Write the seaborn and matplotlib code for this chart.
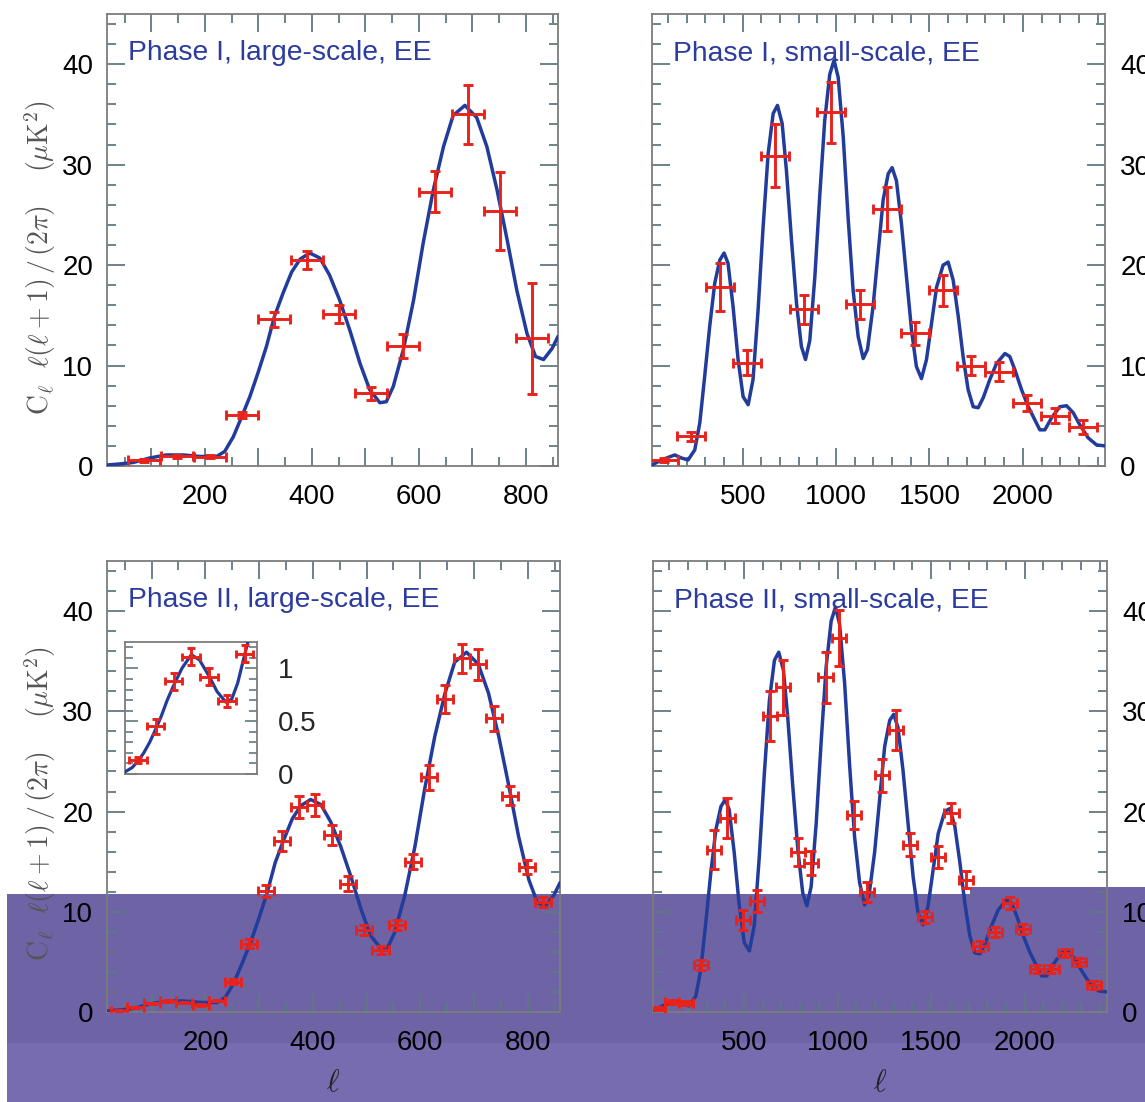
import numpy as np
import pandas as pd
import matplotlib
matplotlib.use("Agg")
import matplotlib.pyplot as plt
from matplotlib.ticker import MultipleLocator, FuncFormatter
from matplotlib.patches import Rectangle
import seaborn as sns

# ---------------- data ----------------
# theory curve, large-scale panels
ls_model_l = [17, 40, 66, 97, 128, 160, 191, 222, 237, 253, 268, 284, 300, 315, 330, 346, 362,
              378, 396, 415, 433, 452, 471, 490, 508, 527, 539, 552, 571, 590, 608, 627, 646,
              664, 686, 708, 727, 746, 765, 783, 802, 818, 833, 849, 860]
ls_model_y = [0.1, 0.2, 0.35, 0.8, 1.1, 1.1, 0.95, 0.95, 1.45, 2.9, 4.8, 6.9, 9.4, 11.9, 14.9,
              17.2, 19.3, 20.6, 21.2, 20.7, 19.0, 16.5, 13.5, 10.2, 7.6, 6.3, 6.4, 7.9, 11.6,
              16.5, 22.2, 27.5, 31.8, 34.9, 35.9, 34.7, 31.8, 27.5, 22.5, 17.5, 13.2, 10.9,
              10.6, 11.7, 12.9]

# theory curve, small-scale panels
ss_model_l = [14, 64, 136, 171, 207, 243, 270, 296, 323, 350, 377, 400, 421, 448, 475, 502, 529,
              555, 582, 609, 636, 663, 686, 711, 734, 761, 788, 814, 836, 859, 886, 913, 939,
              966, 989, 1011, 1038, 1064, 1091, 1118, 1145, 1168, 1198, 1225, 1252, 1279, 1300,
              1323, 1350, 1377, 1404, 1430, 1457, 1484, 1511, 1538, 1573, 1600, 1627, 1654,
              1680, 1707, 1734, 1761, 1788, 1823, 1859, 1904, 1930, 1957, 1993, 2029, 2064,
              2091, 2118, 2154, 2198, 2234, 2270, 2305, 2350, 2395, 2440]
ss_model_y = [0.1, 0.6, 1.1, 0.8, 0.6, 1.6, 4.3, 8.9, 13.9, 18.2, 20.5, 21.2, 20.2, 15.9, 10.6,
              6.9, 6.1, 8.6, 15.5, 23.8, 31.1, 35.1, 35.9, 34.1, 29.4, 22.5, 16.2, 11.9, 10.6,
              12.5, 18.8, 27.1, 34.4, 39.0, 40.4, 38.7, 32.8, 24.8, 17.5, 12.9, 10.7, 11.6,
              15.9, 21.2, 26.5, 29.1, 29.7, 28.4, 24.1, 18.8, 13.5, 9.9, 8.7, 10.6, 14.2, 17.8,
              20.0, 20.3, 18.5, 14.9, 10.9, 7.6, 5.9, 5.8, 6.8, 8.6, 10.2, 11.2, 10.9, 9.6, 7.6,
              5.9, 4.6, 3.6, 3.6, 4.8, 5.9, 6.0, 5.3, 4.1, 2.8, 2.1, 2.0]

# Phase I, large-scale
p1l_l = [87, 148, 209, 269, 329, 390, 450, 510, 571, 630, 691, 751, 812]
p1l_y = [0.55, 0.95, 0.9, 5.03, 14.6, 20.5, 15.1, 7.25, 11.95, 27.3, 35.0, 25.4, 12.7]
p1l_yerr = [0.15, 0.15, 0.15, 0.3, 0.75, 0.9, 0.9, 0.65, 1.2, 2.05, 2.95, 3.9, 5.5]
p1l_xerr = 30

# Phase I, small-scale
p1s_l = [80, 225, 377, 525, 675, 827, 975, 1127, 1275, 1425, 1573, 1721, 1871, 2023, 2171, 2320]
p1s_y = [0.6, 2.95, 17.8, 10.3, 30.9, 15.6, 35.2, 16.1, 25.6, 13.2, 17.5, 10.0, 9.4, 6.3, 5.0, 3.9]
p1s_yerr = [0.2, 0.45, 2.4, 1.2, 3.1, 1.45, 3.05, 1.45, 2.2, 1.15, 1.55, 0.95, 0.95, 0.8, 0.75, 0.7]
p1s_xerr = 75

# Phase II, large-scale
p2l_l = [40, 70, 101, 131, 161, 192, 222, 252, 282, 313, 343, 374, 404, 435, 465, 495, 526,
         556, 586, 616, 646, 677, 707, 737, 767, 798, 828]
p2l_y = [0.13, 0.45, 0.88, 1.11, 0.92, 0.69, 1.14, 3.0, 6.8, 12.1, 17.1, 20.5, 20.7, 17.7,
         12.8, 8.2, 6.2, 8.7, 15.0, 23.4, 31.2, 35.3, 34.7, 29.3, 21.6, 14.5, 11.0]
p2l_yerr = [0.05, 0.05, 0.06, 0.07, 0.07, 0.07, 0.08, 0.25, 0.45, 0.6, 1.0, 1.1, 1.1, 1.0,
            0.75, 0.5, 0.4, 0.5, 0.75, 1.2, 1.4, 1.45, 1.55, 1.25, 0.95, 0.7, 0.5]
p2l_xerr = 15

# inset of Phase II, large-scale (low multipoles)
inset_l = [40, 70, 101, 131, 161, 192, 222]
inset_y = [0.13, 0.45, 0.88, 1.11, 0.92, 0.69, 1.14]
inset_yerr = [0.03, 0.07, 0.08, 0.08, 0.08, 0.06, 0.08]
inset_model_l = [18, 30, 40, 50, 60, 70, 80, 90, 101, 115, 131, 145, 161, 175, 190, 200, 210, 222, 232]
inset_model_y = [0.02, 0.06, 0.12, 0.2, 0.3, 0.42, 0.55, 0.7, 0.84, 1.0, 1.13, 1.08, 0.93,
                 0.78, 0.68, 0.71, 0.86, 1.13, 1.35]

# Phase II, small-scale
p2s_l = [40, 115, 190, 271, 341, 412, 494, 571, 639, 707, 788, 859, 936, 1007, 1086, 1159,
         1236, 1311, 1386, 1468, 1537, 1609, 1686, 1764, 1843, 1920, 1991, 2068, 2143, 2214,
         2291, 2371]
p2s_y = [0.3, 1.0, 0.9, 4.7, 16.2, 19.4, 9.2, 11.1, 29.5, 32.4, 16.0, 14.9, 33.4, 37.3, 19.7,
         12.0, 23.6, 28.1, 16.7, 9.45, 15.5, 19.9, 13.2, 6.55, 8.0, 10.9, 8.3, 4.3, 4.3, 5.9,
         5.0, 2.7]
p2s_yerr = [0.15, 0.2, 0.2, 0.5, 1.95, 2.0, 1.0, 1.1, 2.5, 2.75, 1.4, 1.2, 2.55, 2.8, 1.4,
            1.0, 1.6, 2.0, 1.15, 0.6, 1.1, 1.0, 0.85, 0.5, 0.5, 0.6, 0.5, 0.4, 0.4, 0.4, 0.4, 0.4]
p2s_xerr = 38

titles = ["Phase I, large-scale, EE", "Phase I, small-scale, EE",
          "Phase II, large-scale, EE", "Phase II, small-scale, EE"]
ylabel_text = r"$\mathrm{C}_\ell\ \ \ell(\ell+1)\,/\,(2\pi)\quad\ (\mu\mathrm{K}^2)$"

# ---------------- style ----------------
sns.set_theme(style="ticks")
plt.rcParams["font.family"] = ["Liberation Sans", "DejaVu Sans"]
plt.rcParams["mathtext.fontset"] = "cm"

LINE = "#223c9c"
RED = "#e8231c"
TXT = "#2b3b9e"
SPINE = "#7c7c7c"
TICK = "#5f7a80"

W, H = 1145, 1102
fig = plt.figure(figsize=(W / 100, H / 100), dpi=100, facecolor="white")


def frac(left, top, right, bottom):
    return [left / W, 1 - bottom / H, (right - left) / W, (bottom - top) / H]


ax_tl = fig.add_axes(frac(107, 14, 558, 466))
ax_tr = fig.add_axes(frac(652, 14, 1105, 466))
ax_bl = fig.add_axes(frac(107, 561, 560, 1012))
ax_br = fig.add_axes(frac(653, 561, 1107, 1012))

# background band across the lower part of the figure (as in the reference)
fig.patches.append(Rectangle((7 / W, 59 / H), 1 - 7 / W, (1043 - 894) / H,
                             transform=fig.transFigure, facecolor="#6e63a4",
                             edgecolor="none", zorder=-5))
fig.patches.append(Rectangle((970 / W, (1102 - 894) / H), 1 - 970 / W, 7 / H,
                             transform=fig.transFigure, facecolor="#6e63a4",
                             edgecolor="none", zorder=-5))
fig.patches.append(Rectangle((7 / W, 0), 1 - 7 / W, 59 / H,
                             transform=fig.transFigure, facecolor="#786cb0",
                             edgecolor="none", zorder=-5))


def style_axes(ax, large, right_labels):
    ax.set_facecolor("none")
    for s in ax.spines.values():
        s.set_color(SPINE)
        s.set_linewidth(1.3)
    ax.set_ylim(0, 45)
    if large:
        ax.set_xlim(17, 860)
        ax.xaxis.set_major_locator(MultipleLocator(100))
        ax.xaxis.set_minor_locator(MultipleLocator(50))
        ax.xaxis.set_major_formatter(FuncFormatter(
            lambda v, p: f"{int(round(v))}" if round(v) % 200 == 0 else ""))
    else:
        ax.set_xlim(14, 2440)
        ax.xaxis.set_major_locator(MultipleLocator(500))
        ax.xaxis.set_minor_locator(MultipleLocator(100))
        ax.xaxis.set_major_formatter(FuncFormatter(lambda v, p: f"{int(round(v))}"))
    ax.yaxis.set_major_locator(MultipleLocator(10))
    ax.yaxis.set_minor_locator(MultipleLocator(2))
    ax.tick_params(which="both", direction="in", top=True, right=True, bottom=True, left=True,
                   color=TICK, width=1.3, labelsize=20, labelcolor="black")
    ax.tick_params(which="major", length=13)
    ax.tick_params(which="minor", length=6.5)
    ax.tick_params(axis="x", pad=13)
    if right_labels:
        ax.tick_params(axis="y", labelleft=False, labelright=True, pad=11)
    else:
        ax.tick_params(axis="y", labelleft=True, labelright=False, pad=10)
    ax.set_xlabel("")
    ax.set_ylabel("")


def draw_panel(ax, model_l, model_y, pl, py, pyerr, pxerr, title):
    model = pd.DataFrame({"l": model_l, "D": model_y})
    sns.lineplot(data=model, x="l", y="D", ax=ax, color=LINE, linewidth=2.5,
                 estimator=None, zorder=3)
    ax.errorbar(pl, py, yerr=pyerr, xerr=pxerr, fmt="none", ecolor=RED,
                elinewidth=2.1, capsize=3.5, capthick=2.1, zorder=4)
    ax.text(0.047, 0.898, title, transform=ax.transAxes, color=TXT, fontsize=20.3,
            ha="left", va="baseline", zorder=5)


draw_panel(ax_tl, ls_model_l, ls_model_y, p1l_l, p1l_y, p1l_yerr, p1l_xerr, titles[0])
draw_panel(ax_tr, ss_model_l, ss_model_y, p1s_l, p1s_y, p1s_yerr, p1s_xerr, titles[1])
draw_panel(ax_bl, ls_model_l, ls_model_y, p2l_l, p2l_y, p2l_yerr, p2l_xerr, titles[2])
draw_panel(ax_br, ss_model_l, ss_model_y, p2s_l, p2s_y, p2s_yerr, p2s_xerr, titles[3])

style_axes(ax_tl, True, False)
style_axes(ax_tr, False, True)
style_axes(ax_bl, True, False)
style_axes(ax_br, False, True)

for ax in (ax_tl, ax_bl):
    ax.set_ylabel(ylabel_text, fontsize=20, color="#555555")
    ax.yaxis.set_label_coords(-0.108, 0.462)

for ax in (ax_bl, ax_br):
    ax.set_xlabel(r"$\ell$", fontsize=22, color="#222222", labelpad=9)

# inset in the Phase II large-scale panel
ax_in = fig.add_axes(frac(125, 642, 257, 774))
ax_in.set_facecolor("white")
inset_model = pd.DataFrame({"l": inset_model_l, "D": inset_model_y})
sns.lineplot(data=inset_model, x="l", y="D", ax=ax_in, color=LINE, linewidth=2.3,
             estimator=None, zorder=3)
ax_in.errorbar(inset_l, inset_y, yerr=inset_yerr, xerr=15, fmt="none", ecolor=RED,
               elinewidth=2.1, capsize=3, capthick=2.1, zorder=4)
ax_in.set_xlim(18, 243)
ax_in.set_ylim(0, 1.25)
ax_in.set_xticks([])
ax_in.yaxis.set_major_locator(MultipleLocator(0.5))
ax_in.yaxis.set_minor_locator(MultipleLocator(0.1))
ax_in.yaxis.set_major_formatter(FuncFormatter(lambda v, p: {0: "0", 0.5: "0.5", 1: "1"}.get(round(v, 2), "")))
ax_in.tick_params(axis="y", which="both", direction="in", left=True, right=True,
                  labelleft=False, labelright=True, color=TICK, width=1.2,
                  labelsize=20, pad=15)
ax_in.tick_params(axis="y", which="major", length=9)
ax_in.tick_params(axis="y", which="minor", length=6)
for s in ax_in.spines.values():
    s.set_color(SPINE)
    s.set_linewidth(1.3)
ax_in.set_xlabel("")
ax_in.set_ylabel("")

fig.savefig("out.png", dpi=100, facecolor="white")
